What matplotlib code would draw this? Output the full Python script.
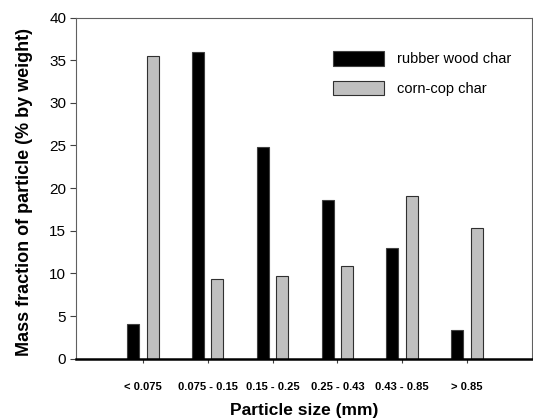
import matplotlib
matplotlib.use("Agg")
import matplotlib.pyplot as plt
import numpy as np

categories = ["< 0.075", "0.075 - 0.15", "0.15 - 0.25", "0.25 - 0.43", "0.43 - 0.85", "> 0.85"]
rubber_wood = [4.1, 36.0, 24.8, 18.6, 13.0, 3.4]
corn_cop = [35.5, 9.3, 9.7, 10.9, 19.1, 15.3]
y_ticks = [0, 5, 10, 15, 20, 25, 30, 35, 40]

plt.rcParams['font.family'] = ['Liberation Sans', 'DejaVu Sans']

fig = plt.figure(figsize=(5.33, 4.19), dpi=100)
ax = fig.add_axes([0.1426, 0.1439, 0.8554, 0.8143])

x = np.arange(len(categories))
w = 0.185
off = 0.15
ax.bar(x - off, rubber_wood, w, color='black', edgecolor='#404040', linewidth=0.8,
       label='rubber wood char', zorder=3)
ax.bar(x + off, corn_cop, w, color='#c0c0c0', edgecolor='#303030', linewidth=0.8,
       label='corn-cop char', zorder=3)

ax.set_xlim(-1.03, 6.0)
ax.set_ylim(0, 40)
ax.set_yticks(y_ticks)
ax.set_xticks(x)
ax.set_xticklabels(categories, fontsize=8, fontweight='bold')
ax.tick_params(axis='y', labelsize=11, length=4, width=0.8, color='#404040', pad=3)
ax.tick_params(axis='x', length=3, width=0.8, color='#404040', pad=13.5)

for s in ['left', 'top', 'right']:
    ax.spines[s].set_color('#606060')
    ax.spines[s].set_linewidth(0.8)
ax.spines['bottom'].set_color('black')
ax.spines['bottom'].set_linewidth(1.8)
ax.spines['bottom'].set_zorder(4)

ax.set_ylabel('Mass fraction of particle (% by weight)', fontsize=13, fontweight='bold')
ax.yaxis.set_label_coords(-0.114, 0.49)
ax.yaxis.label.set_va('center')
ax.set_xlabel('Particle size (mm)', fontsize=12.5, fontweight='bold')
ax.xaxis.set_label_coords(0.5, -0.153)
ax.xaxis.label.set_va('center')

leg = ax.legend(loc='upper left', bbox_to_anchor=(0.535, 0.94), frameon=False, fontsize=10.5,
                handlelength=3.5, handleheight=1.16, handletextpad=0.9, labelspacing=1.0)

fig.savefig('out.png', dpi=100)
